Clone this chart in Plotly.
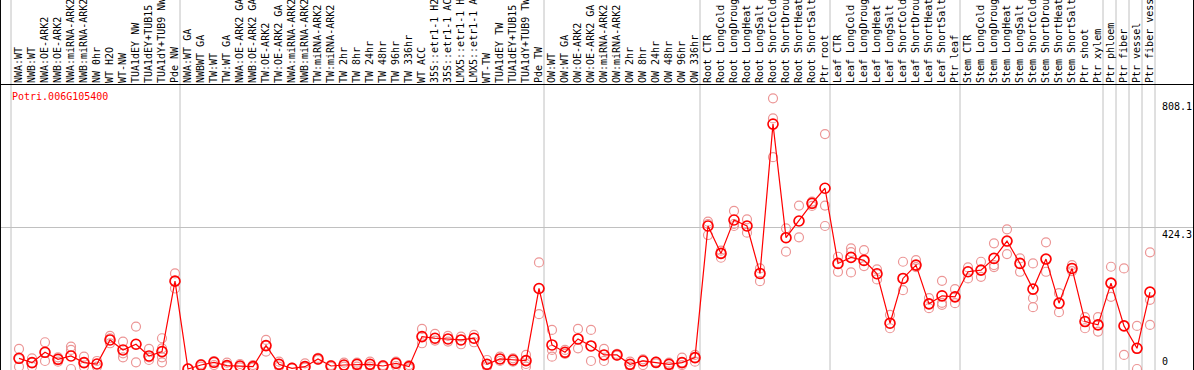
import plotly.graph_objects as go

categories = [
    "NWA:WT", "NWB:WT", "NWA:OE-ARK2", "NWB:OE-ARK2", "NWA:miRNA-ARK2", "NWB:miRNA-ARK2",
    "NW 0hr", "WT H2O", "WT-NW", "TUA1dEY NW", "TUA1dEY+TUB15", "TUA1dY+TUB9 NW", "Pde NW",
    "NWA:WT GA", "NWBWT GA", "TW:WT", "TW:WT GA", "NWA:OE-ARK2 GA", "NWB:OE-ARK2 GA",
    "TW:OE-ARK2", "TW:OE-ARK2 GA", "NWA:miRNA-ARK2 GA", "NWB:miRNA-ARK2 GA", "TW:miRNA-ARK2",
    "TW:miRNA-ARK2 GA", "TW 2hr", "TW 8hr", "TW 24hr", "TW 48hr", "TW 96hr", "TW 336hr",
    "WT ACC", "35S::etr1-1 H2O", "35S::etr1-1 ACC", "LMX5::etr1-1 H2O", "LMX5::etr1-1 ACC",
    "WT-TW", "TUA1dEY TW", "TUA1dEY+TUB15 TW", "TUA1dY+TUB9 TW", "Pde TW",
    "OW:WT", "OW:WT GA", "OW:OE-ARK2", "OW:OE-ARK2 GA", "OW:miRNA-ARK2", "OW:miRNA-ARK2 GA",
    "OW 2hr", "OW 8hr", "OW 24hr", "OW 48hr", "OW 96hr", "OW 336hr",
    "Root CTR", "Root LongCold", "Root LongDrought", "Root LongHeat", "Root LongSalt",
    "Root ShortCold", "Root ShortDrought", "Root ShortHeat", "Root ShortSalt", "Ptr root",
    "Leaf CTR", "Leaf LongCold", "Leaf LongDrought", "Leaf LongHeat", "Leaf LongSalt",
    "Leaf ShortCold", "Leaf ShortDrought", "Leaf ShortHeat", "Leaf ShortSalt", "Ptr leaf",
    "Stem CTR", "Stem LongCold", "Stem LongDrought", "Stem LongHeat", "Stem LongSalt",
    "Stem ShortCold", "Stem ShortDrought", "Stem ShortHeat", "Stem ShortSalt", "Ptr shoot",
    "Ptr xylem", "Ptr phloem", "Ptr fiber", "Ptr vessel", "Ptr fiber vessel",
]

mean_values = [
    32, 19, 50, 29, 39, 19, 15, 87, 57, 74, 39, 52, 263,
    0, 12, 20, 10, 9, 7, 70, 14, 2, 7, 30, 9, 12, 14, 14, 9, 17, 7,
    97, 92, 90, 87, 92, 14, 30, 27, 25, 241,
    72, 50, 90, 69, 42, 42, 14, 24, 20, 14, 19, 34,
    428, 346, 446, 428, 286, 733, 393, 443, 496, 541,
    316, 334, 325, 285, 137, 271, 311, 195, 219, 216,
    291, 296, 331, 383, 316, 239, 329, 197, 301, 142,
    132, 257, 129, 62, 230,
]

replicates = [
    [60, 30, 7], [32, 19, 7], [80, 50, 24], [35, 29, 22], [67, 57, 0], [37, 19, 7],
    [24, 15, 7], [99, 92, 77], [82, 47, 35], [127, 74, 20], [60, 35, 27], [92, 62, 35, 20], [286, 263, 241],
    [2, 0], [15, 12, 7], [24, 20, 12], [19, 10, 7], [15, 9, 5], [12, 7, 4], [87, 70, 52], [22, 14, 7], [4, 2],
    [17, 7, 4], [33, 30, 27], [12, 9, 6], [19, 12, 7], [19, 14, 7], [22, 14, 7], [12, 9, 6], [22, 17, 9], [12, 7, 2],
    [120, 97, 77], [105, 92, 85], [99, 90, 82], [97, 87, 74], [102, 92, 80],
    [27, 14, 7], [37, 30, 24], [32, 27, 22], [42, 25, 15, 7], [319, 241, 164],
    [117, 57, 37], [57, 50, 45], [120, 90, 62], [117, 69, 24], [60, 42, 24], [45, 42, 40],
    [22, 14, 7], [29, 24, 12], [22, 20, 17], [19, 14, 7], [34, 20, 12], [42, 34, 22],
    [441, 434, 401], [354, 346, 333], [473, 434, 428], [448, 428, 408], [301, 286, 263],
    [810, 750, 634], [421, 393, 351], [489, 443, 394], [501, 496, 488], [703, 489, 428],
    [336, 316, 291], [361, 350, 289], [356, 325, 308], [298, 284, 268], [162, 137, 122],
    [321, 271, 236], [326, 311, 305], [212, 195, 182], [264, 198, 192], [239, 216, 197],
    [304, 291, 271], [321, 296, 276], [376, 311, 305], [418, 383, 344], [331, 316, 291],
    [316, 212, 185], [379, 329, 291], [227, 197, 170], [311, 301, 293], [155, 142, 122],
    [155, 132, 112], [306, 257, 216], [301, 129, 42], [129, 62, 0], [349, 207, 132],
]

group_starts = [0, 13, 41, 53, 63, 73, 84, 85, 86, 87, 88]
gene_id = "Potri.006G105400"
axis_labels = ["808.1", "424.3", "0"]
axis_values = [808.1, 424.3, 0]

idx = list(range(len(categories)))
rep_x, rep_y = [], []
for i, reps in enumerate(replicates):
    for v in reps:
        rep_x.append(i)
        rep_y.append(v)

FONT = "DejaVu Sans Mono"
fig = go.Figure()
fig.add_trace(go.Scatter(
    x=rep_x, y=rep_y, mode="markers",
    marker=dict(symbol="circle-open", size=9, color="rgb(236,150,150)", line=dict(width=1.2)),
    hoverinfo="skip", showlegend=False,
))
fig.add_trace(go.Scatter(
    x=idx, y=mean_values, mode="lines+markers",
    line=dict(color="#ff0000", width=1.2),
    marker=dict(symbol="circle-open", size=10, color="#ff0000", line=dict(width=1.6)),
    showlegend=False,
))

shapes = []
for b in group_starts:
    shapes.append(dict(type="line", xref="x", yref="paper", x0=b - 0.615, x1=b - 0.615,
                       y0=0, y1=1.31, line=dict(color="#c0c0c0", width=1), layer="below"))
shapes.append(dict(type="line", xref="paper", yref="paper", x0=0.0004, x1=0.0004, y0=0, y1=1.31,
                   line=dict(color="black", width=1)))
shapes.append(dict(type="line", xref="paper", yref="paper", x0=0.9996, x1=0.9996, y0=0, y1=1.31,
                   line=dict(color="black", width=1)))

annotations = [dict(text=gene_id, xref="paper", yref="paper", x=10 / 1194, y=0.958,
                    xanchor="left", yanchor="middle", showarrow=False,
                    font=dict(family=FONT, size=10, color="#ff0000"))]
for lab, v in zip(axis_labels, axis_values):
    annotations.append(dict(text=lab, xref="paper", yref="y", x=1160 / 1194, y=v,
                            xanchor="left", yanchor="bottom" if v == 0 else "top",
                            showarrow=False, font=dict(family=FONT, size=10, color="black")))

fig.update_layout(
    width=1194, height=370,
    margin=dict(l=0, r=0, t=85, b=0, autoexpand=False),
    paper_bgcolor="white", plot_bgcolor="white",
    template="none",
    shapes=shapes, annotations=annotations,
    xaxis=dict(range=[-19 / 13, 1175 / 13], side="top", tickvals=idx, ticktext=categories,
               tickangle=-90, tickfont=dict(family=FONT, size=10, color="black"),
               ticklabelstandoff=-1,
               showgrid=False, zeroline=False, showline=True, linecolor="black", linewidth=1,
               mirror=True, ticks="", automargin=False),
    yaxis=dict(range=[-3, 850], tickvals=[424.3], showticklabels=False, showgrid=True,
               gridcolor="#c0c0c0", gridwidth=1, zeroline=False, showline=False,
               ticks="", automargin=False),
)
fig.write_html("out.html", config={"displayModeBar": False},
               post_script="document.body.style.margin='0px';document.body.style.overflow='hidden';")
